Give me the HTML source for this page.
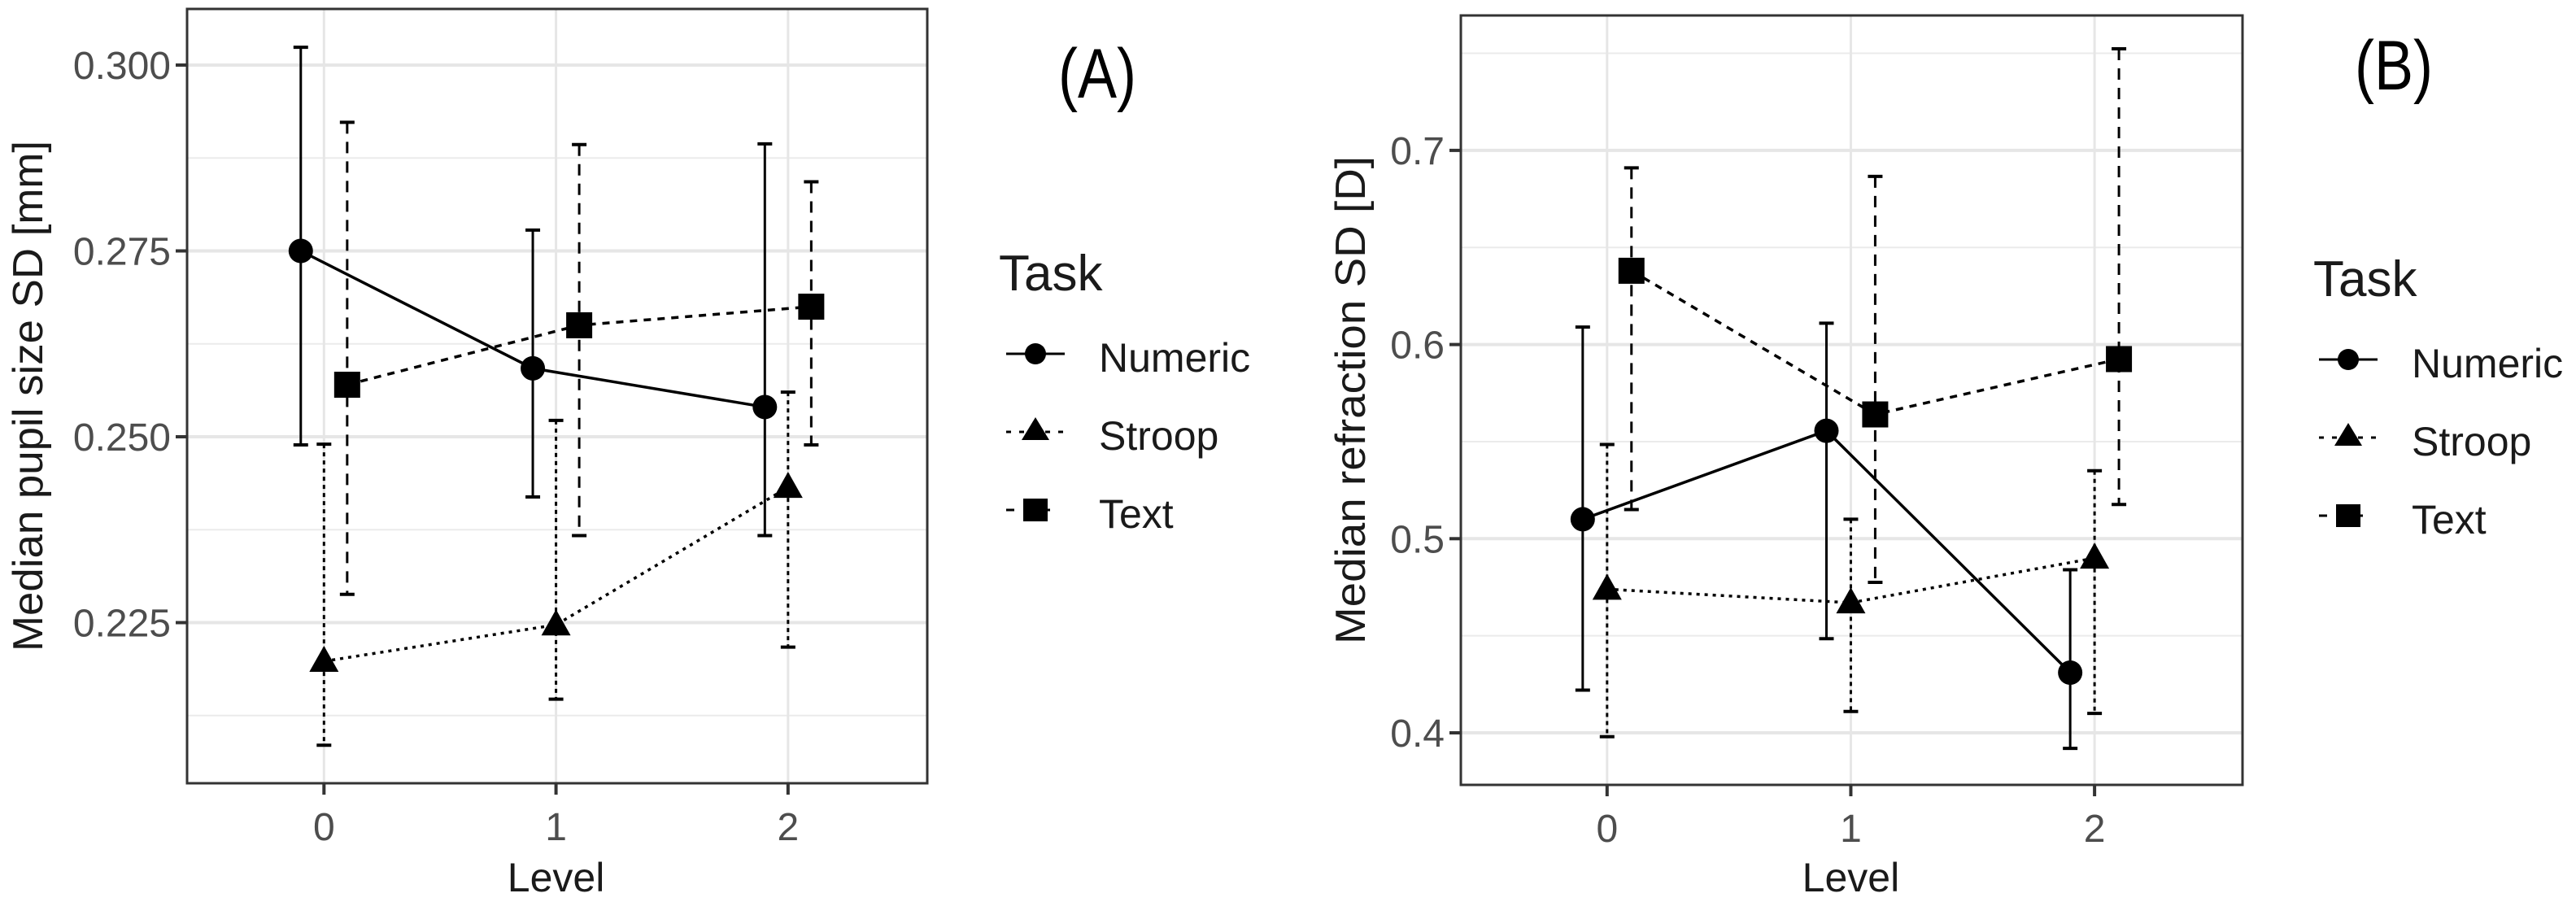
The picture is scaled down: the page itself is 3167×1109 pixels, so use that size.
<!DOCTYPE html>
<html><head><meta charset="utf-8"><style>
html,body{margin:0;padding:0;background:#fff;}
svg{display:block;}
text{font-family:"Liberation Sans",sans-serif;}
</style></head><body>
<svg id="chart" width="3167" height="1109" viewBox="0 0 3167 1109" xmlns="http://www.w3.org/2000/svg"></svg>
<script>
// ---- data ----
const levels = [0, 1, 2];
const tasks = ["Numeric", "Stroop", "Text"];
const dodge = [-0.1, 0, 0.1];
// Panel A: median pupil size SD [mm]
const aNumeric = [0.275, 0.2592, 0.254];
const aNumericLo = [0.2489, 0.2419, 0.2367];
const aNumericHi = [0.3024, 0.2778, 0.2894];
const aStroop = [0.2198, 0.2247, 0.2432];
const aStroopLo = [0.2085, 0.2147, 0.2217];
const aStroopHi = [0.249, 0.2522, 0.256];
const aText = [0.257, 0.265, 0.2675];
const aTextLo = [0.2288, 0.2367, 0.2489];
const aTextHi = [0.2923, 0.2893, 0.2843];
const aTicks = [0.225, 0.250, 0.275, 0.300];
const aTickLabels = ["0.225", "0.250", "0.275", "0.300"];
const aMinor = [0.2125, 0.2375, 0.2625, 0.2875];
// Panel B: median refraction SD [D]
const bNumeric = [0.510, 0.5556, 0.431];
const bNumericLo = [0.422, 0.4485, 0.392];
const bNumericHi = [0.609, 0.611, 0.484];
const bStroop = [0.474, 0.467, 0.490];
const bStroopLo = [0.398, 0.411, 0.410];
const bStroopHi = [0.5485, 0.510, 0.535];
const bText = [0.638, 0.564, 0.5925];
const bTextLo = [0.515, 0.4775, 0.5176];
const bTextHi = [0.691, 0.6866, 0.7523];
const bTicks = [0.4, 0.5, 0.6, 0.7];
const bTickLabels = ["0.4", "0.5", "0.6", "0.7"];
const bMinor = [0.45, 0.55, 0.65, 0.75];

const NS = "http://www.w3.org/2000/svg";
const svg = document.getElementById("chart");
function mk(tag, attrs, parent) {
  const e = document.createElementNS(NS, tag);
  for (const k in attrs) e.setAttribute(k, attrs[k]);
  (parent || svg).appendChild(e);
  return e;
}
const lineDash = ["", "4,6", "9,8"];
const barDash = ["", "5,5", "14,10"];

function panel(cfg) {
  const g = mk("g", {});
  
  
  const X = v => cfg.x0 + (v - cfg.xmin) / (cfg.xmax - cfg.xmin) * (cfg.x1 - cfg.x0);
  const Y = v => cfg.yRef + (cfg.vRef - v) * cfg.ppu;
  mk("rect", {x: cfg.x0, y: cfg.y0, width: cfg.x1 - cfg.x0, height: cfg.y1 - cfg.y0, fill: "#fff"}, g);
  cfg.minor.forEach(v => {
    const l = mk("line", {x1: cfg.x0, x2: cfg.x1, y1: Y(v), y2: Y(v), stroke: "#ebebeb", "stroke-width": 2}, g);
    
    
  });
  cfg.ticks.forEach(v => {
    const l = mk("line", {x1: cfg.x0, x2: cfg.x1, y1: Y(v), y2: Y(v), stroke: "#e6e6e6", "stroke-width": 4}, g);
    
    
  });
  levels.forEach(v => {
    const l = mk("line", {x1: X(v), x2: X(v), y1: cfg.y0, y2: cfg.y1, stroke: "#e6e6e6", "stroke-width": 3}, g);
    
    
  });
  const series = [[cfg.num, cfg.numLo, cfg.numHi], [cfg.str, cfg.strLo, cfg.strHi], [cfg.txt, cfg.txtLo, cfg.txtHi]];
  series.forEach((s, si) => {
    const sg = mk("g", {}, g);
    
    
    levels.forEach((lv, i) => {
      const x = X(lv + dodge[si]);
      const eb = mk("g", {}, sg);
      
      
      mk("line", {x1: x, x2: x, y1: Y(s[2][i]), y2: Y(s[1][i]), stroke: "#000", "stroke-width": 3, "stroke-dasharray": barDash[si]}, eb);
      mk("line", {x1: x - 9, x2: x + 9, y1: Y(s[2][i]), y2: Y(s[2][i]), stroke: "#000", "stroke-width": 4}, eb);
      mk("line", {x1: x - 9, x2: x + 9, y1: Y(s[1][i]), y2: Y(s[1][i]), stroke: "#000", "stroke-width": 4}, eb);
    });
    const pts = levels.map((lv, i) => X(lv + dodge[si]) + "," + Y(s[0][i])).join(" ");
    const pl = mk("polyline", {points: pts, fill: "none", stroke: "#000", "stroke-width": 3.5, "stroke-dasharray": lineDash[si]}, sg);
    
    
    levels.forEach((lv, i) => {
      const x = X(lv + dodge[si]), y = Y(s[0][i]);
      let m;
      if (si === 0) m = mk("circle", {cx: x, cy: y, r: 15, fill: "#000"}, sg);
      else if (si === 1) m = mk("polygon", {points: (x) + "," + (y - 19) + " " + (x - 18) + "," + (y + 13) + " " + (x + 18) + "," + (y + 13), fill: "#000"}, sg);
      else m = mk("rect", {x: x - 16, y: y - 16, width: 32, height: 32, fill: "#000"}, sg);
      
      
    });
  });
  const br = mk("rect", {x: cfg.x0, y: cfg.y0, width: cfg.x1 - cfg.x0, height: cfg.y1 - cfg.y0, fill: "none", stroke: "#333", "stroke-width": 3}, g);
  
  
  cfg.ticks.forEach((v, i) => {
    mk("line", {x1: cfg.x0 - 14, x2: cfg.x0, y1: Y(v), y2: Y(v), stroke: "#333", "stroke-width": 4}, g);
    const t = mk("text", {x: cfg.x0 - 20, y: Y(v) + 17, "text-anchor": "end", "font-size": 48, fill: "#4d4d4d"}, g);
    t.textContent = cfg.tickLabels[i];
    
    
  });
  levels.forEach(v => {
    mk("line", {x1: X(v), x2: X(v), y1: cfg.y1, y2: cfg.y1 + 14, stroke: "#333", "stroke-width": 4}, g);
    const t = mk("text", {x: X(v), y: cfg.y1 + 70, "text-anchor": "middle", "font-size": 48, fill: "#4d4d4d"}, g);
    t.textContent = String(v);
    
    
  });
  const xt = mk("text", {x: X(1), y: 1096, "text-anchor": "middle", "font-size": 50, fill: "#1a1a1a"}, g);
  xt.textContent = "Level";
  
  
  const cy = (cfg.y0 + cfg.y1) / 2;
  const yt = mk("text", {x: 0, y: 0, "text-anchor": "middle", "font-size": 52, fill: "#1a1a1a", textLength: cfg.ytLen, lengthAdjust: "spacingAndGlyphs", transform: "translate(" + cfg.ytX + "," + cy + ") rotate(-90)"}, g);
  yt.textContent = cfg.yTitle;
  
  
  const lg = mk("g", {}, g);
  
  
  const tt = mk("text", {x: cfg.legX, y: cfg.legY, "font-size": 62, fill: "#1a1a1a"}, lg);
  tt.textContent = "Task";
  
  
  tasks.forEach((name, si) => {
    const ky = cfg.legY + 78 + si * 96;
    const kx = cfg.legKeyX;
    const e = mk("g", {}, lg);
    
    
    mk("line", {x1: kx - 36, x2: kx + 36, y1: ky, y2: ky, stroke: "#000", "stroke-width": 3, "stroke-dasharray": si === 0 ? "" : (si === 1 ? "6,10" : "10,34")}, e);
    if (si === 0) mk("circle", {cx: kx, cy: ky, r: 13, fill: "#000"}, e);
    else if (si === 1) mk("polygon", {points: kx + "," + (ky - 18) + " " + (kx - 17) + "," + (ky + 10) + " " + (kx + 17) + "," + (ky + 10), fill: "#000"}, e);
    else mk("rect", {x: kx - 15, y: ky - 14, width: 30, height: 28, fill: "#000"}, e);
    const lt = mk("text", {x: cfg.legTextX, y: ky + 22, "font-size": 50, fill: "#1a1a1a"}, e);
    lt.textContent = name;
  });
  const pt = mk("text", {x: 0, y: 0, "text-anchor": "middle", "font-size": 72, fill: "#000", transform: "translate(" + cfg.tagX + "," + cfg.tagY + ") scale(1,1.2)"}, g);
  pt.textContent = cfg.tag;
  
  
}

panel({name: "panel-a", x0: 230, x1: 1140, y0: 11, y1: 963, xmin: -0.59, xmax: 2.6,
  yRef: 537, vRef: 0.250, ppu: 228.5 / 0.025,
  ticks: aTicks, tickLabels: aTickLabels, minor: aMinor,
  num: aNumeric, numLo: aNumericLo, numHi: aNumericHi,
  str: aStroop, strLo: aStroopLo, strHi: aStroopHi,
  txt: aText, txtLo: aTextLo, txtHi: aTextHi,
  yTitle: "Median pupil size SD [mm]", ytX: 52, ytLen: 628,
  legX: 1228, legY: 357, legKeyX: 1273, legTextX: 1351, tag: "(A)", tagX: 1349, tagY: 120});
panel({name: "panel-b", x0: 1796, x1: 2757, y0: 19, y1: 965, xmin: -0.6, xmax: 2.607,
  yRef: 901, vRef: 0.4, ppu: 238.7 / 0.1,
  ticks: bTicks, tickLabels: bTickLabels, minor: bMinor,
  num: bNumeric, numLo: bNumericLo, numHi: bNumericHi,
  str: bStroop, strLo: bStroopLo, strHi: bStroopHi,
  txt: bText, txtLo: bTextLo, txtHi: bTextHi,
  yTitle: "Median refraction SD [D]", ytX: 1678, ytLen: 600,
  legX: 2844, legY: 364, legKeyX: 2887, legTextX: 2965, tag: "(B)", tagX: 2943, tagY: 110});
</script>
</body></html>
